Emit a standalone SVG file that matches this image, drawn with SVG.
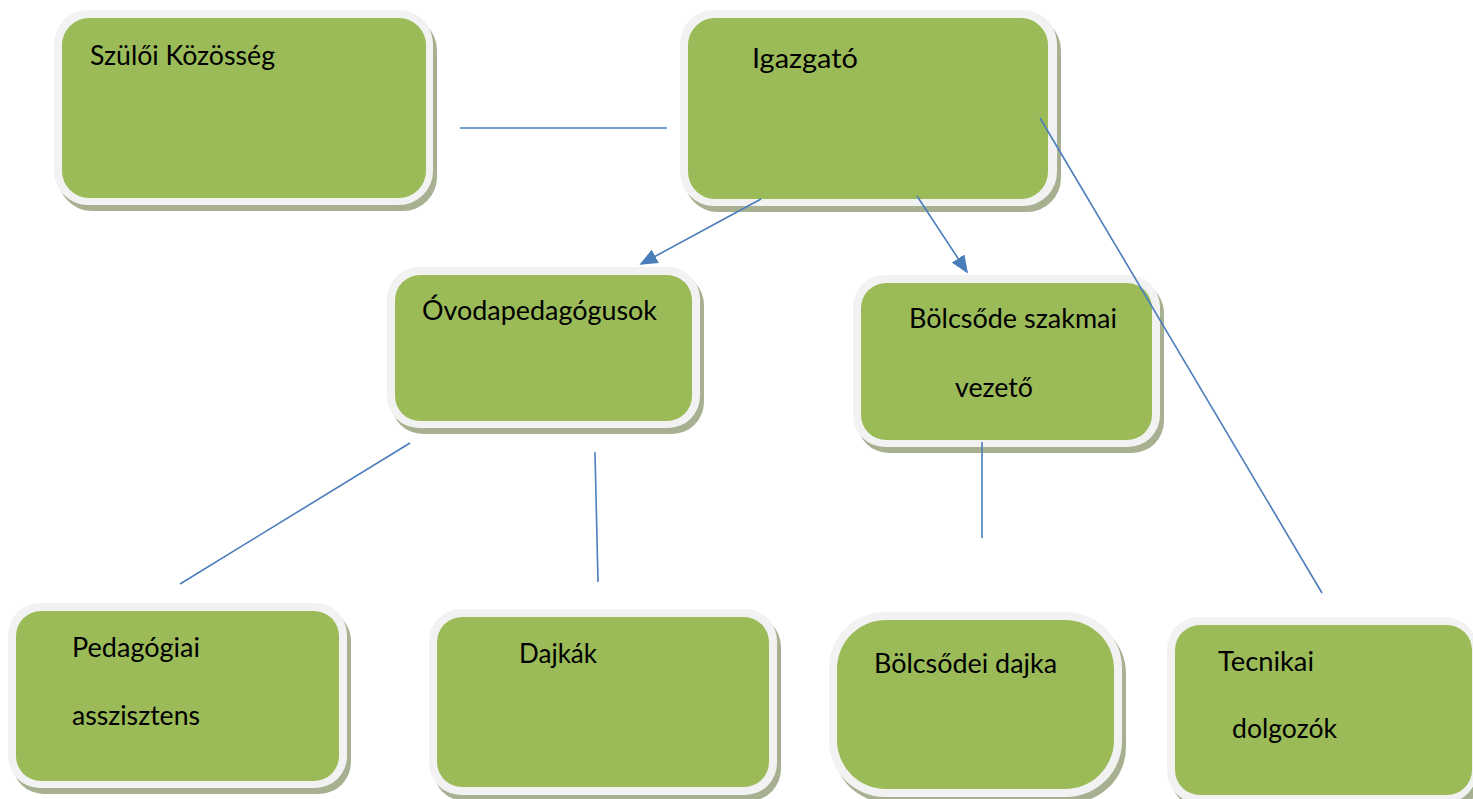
<svg xmlns="http://www.w3.org/2000/svg" width="1473" height="799" viewBox="0 0 1473 799">
<style>
.sh{fill:#a7b091}
.out{fill:#f2f2f2}
.in{fill:#9bbb59}
.t{font-family:Lato,"Open Sans","Liberation Sans",sans-serif;font-size:26px;fill:#000}
.c{stroke:#4a7ebb;stroke-width:1.6;fill:none}
</style>
<defs>
<marker id="arr" viewBox="0 0 10 10" refX="9" refY="5" markerWidth="18" markerHeight="15" markerUnits="userSpaceOnUse" orient="auto" preserveAspectRatio="none">
<path d="M0,0 L10,5 L0,10 Z" fill="#4a7ebb"/>
</marker>
</defs>
<rect width="1473" height="799" fill="#fff"/>
<g id="szuloi">
<rect class="sh" x="58" y="16" width="379" height="195" rx="34"/>
<rect class="out" x="54" y="10" width="379" height="195" rx="34"/>
<rect class="in" x="62" y="18" width="364" height="180" rx="27"/>
<text class="t" x="90" y="65" textLength="185" lengthAdjust="spacingAndGlyphs">Szülői Közösség</text>
</g>
<g id="igazgato">
<rect class="sh" x="684" y="16" width="377" height="196" rx="34"/>
<rect class="out" x="680" y="10" width="377" height="196" rx="34"/>
<rect class="in" x="688" y="18" width="360" height="181" rx="27"/>
<text class="t" x="752" y="68" textLength="106" lengthAdjust="spacingAndGlyphs">Igazgató</text>
</g>
<g id="ovoda">
<rect class="sh" x="391" y="273" width="313" height="161" rx="32"/>
<rect class="out" x="387" y="267" width="313" height="161" rx="32"/>
<rect class="in" x="395" y="275" width="297" height="146" rx="25"/>
<text class="t" x="422" y="320" textLength="235" lengthAdjust="spacingAndGlyphs">Óvodapedagógusok</text>
</g>
<g id="bolcsode">
<rect class="sh" x="857" y="281" width="307" height="172" rx="32"/>
<rect class="out" x="853" y="275" width="307" height="172" rx="32"/>
<rect class="in" x="861" y="283" width="291" height="157" rx="25"/>
<text class="t" x="909" y="328" textLength="208" lengthAdjust="spacingAndGlyphs">Bölcsőde szakmai</text>
<text class="t" x="955" y="397" textLength="78" lengthAdjust="spacingAndGlyphs">vezető</text>
</g>
<g id="pedagogiai">
<rect class="sh" x="12" y="609" width="339" height="185" rx="32"/>
<rect class="out" x="8" y="603" width="339" height="185" rx="32"/>
<rect class="in" x="16" y="611" width="323" height="170" rx="25"/>
<text class="t" x="72" y="657" textLength="128" lengthAdjust="spacingAndGlyphs">Pedagógiai</text>
<text class="t" x="72" y="725" textLength="128" lengthAdjust="spacingAndGlyphs">asszisztens</text>
</g>
<g id="dajkak">
<rect class="sh" x="433" y="615" width="348" height="186" rx="32"/>
<rect class="out" x="429" y="609" width="348" height="186" rx="32"/>
<rect class="in" x="437" y="617" width="332" height="170" rx="25"/>
<text class="t" x="519" y="663" textLength="78" lengthAdjust="spacingAndGlyphs">Dajkák</text>
</g>
<g id="bolcsodei-dajka">
<rect class="sh" x="833" y="618" width="293" height="185" rx="56"/>
<rect class="out" x="829" y="612" width="293" height="185" rx="56"/>
<rect class="in" x="837" y="620" width="277" height="169" rx="49"/>
<text class="t" x="874" y="673" textLength="183" lengthAdjust="spacingAndGlyphs">Bölcsődei dajka</text>
</g>
<g id="tecnikai">
<rect class="sh" x="1171" y="623" width="310" height="186" rx="32"/>
<rect class="out" x="1167" y="617" width="310" height="186" rx="32"/>
<rect class="in" x="1175" y="625" width="297" height="170" rx="25"/>
<text class="t" x="1218" y="671" textLength="96" lengthAdjust="spacingAndGlyphs">Tecnikai</text>
<text class="t" x="1232" y="738" textLength="105" lengthAdjust="spacingAndGlyphs">dolgozók</text>
</g>
<g id="connectors">
<line class="c" x1="761" y1="199" x2="641" y2="264" marker-end="url(#arr)"/>
<line class="c" x1="460" y1="128" x2="667" y2="128"/>
<line class="c" x1="917" y1="196" x2="967" y2="272" marker-end="url(#arr)"/>
<line class="c" x1="1040" y1="118" x2="1322" y2="593"/>
<line class="c" x1="410" y1="443" x2="180" y2="584"/>
<line class="c" x1="595" y1="452" x2="598" y2="582"/>
<line class="c" x1="982" y1="442" x2="982" y2="538"/>
</g>
</svg>
